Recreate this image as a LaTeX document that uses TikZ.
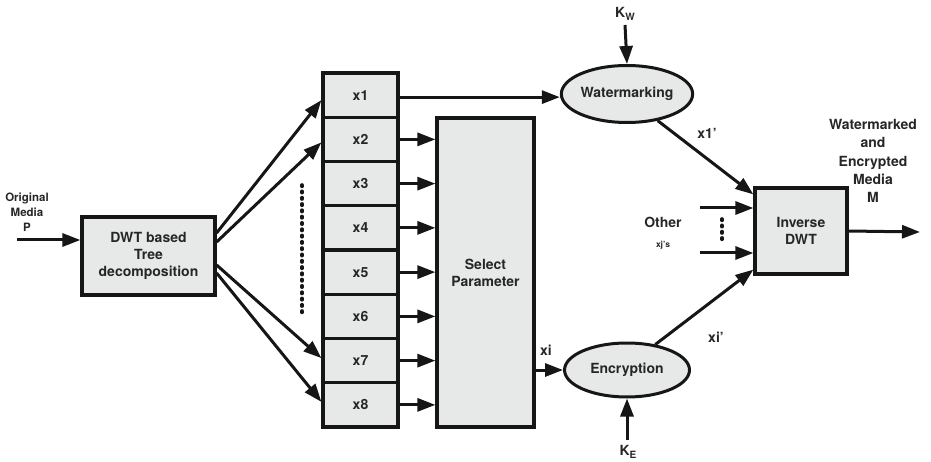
\documentclass[tikz,border=0pt]{standalone}
\usepackage{fontspec}
\setmainfont{TeX Gyre Heros}
\usetikzlibrary{arrows.meta,shapes.geometric,calc}
\definecolor{boxfill}{HTML}{E7E8E8}
\definecolor{ink}{HTML}{161616}
\definecolor{txt}{HTML}{262626}
\newcommand{\mainsize}{\fontsize{14}{17}\selectfont\bfseries}
\newcommand{\subK}[1]{K\raisebox{-0.35ex}{\fontsize{10}{10}\selectfont #1}}
\begin{document}
\begin{tikzpicture}[x=1pt,y=-1pt,
  every node/.style={text=txt,font=\mainsize},
  blk/.style={draw=ink,line width=3.2pt,fill=boxfill,align=center,inner sep=0pt},
  xcell/.style={blk,minimum width=75pt,minimum height=44.25pt},
  proc/.style={draw=ink,line width=3pt,fill=boxfill,ellipse,inner sep=0pt,minimum width=125pt},
  arr/.style={draw=ink,line width=3pt,-{Triangle[length=18pt,width=13pt]}},
  dotline/.style={draw=ink,line width=3.6pt,line cap=round,dash pattern=on 1.4pt off 4.9pt},
  lbl/.style={inner sep=0pt,align=center}]
\useasboundingbox (0,0) rectangle (931,462);

% main blocks
\node[blk,minimum width=133pt,minimum height=78pt] (dwt) at (148.5,256) {DWT based\\Tree\\decomposition};
\foreach \i in {1,...,8}
  \node[xcell] (x\i) at (360.5,{73+44.25*(\i-0.5)}) {x\i};
\node[blk,minimum width=97pt,minimum height=309pt] (sel) at (485.5,272.5) {Select\\Parameter};
\node[proc,minimum height=57pt] (wm) at (627,94) {Watermarking};
\node[proc,minimum height=54pt] (enc) at (627,370) {Encryption};
\node[blk,minimum width=92pt,minimum height=86pt] (inv) at (801,231) {Inverse\\DWT};

% free ends
\coordinate (pin) at (17,240);
\coordinate (kw) at (625,25);
\coordinate (ke) at (627,440);
\coordinate (o1) at (700,208);
\coordinate (o2) at (700,253);
\coordinate (out) at (920,232);

% input
\node[lbl,font=\fontsize{11.5}{15}\selectfont\bfseries] (orig) at (27,212) {Original\\Media\\P};
\draw[arr] (pin) -- (pin -| dwt.west);

% tree decomposition fan-out
\draw[arr] ($(dwt.east)+(0,-23)$) -- ($(x1.west)+(0,5)$);
\draw[arr] ($(dwt.east)+(0,-14)$) -- ($(x2.west)+(0,3)$);
\draw[arr] ($(dwt.east)+(0,9)$) -- ($(x7.west)+(0,-2.5)$);
\draw[arr] ($(dwt.east)+(0,17)$) -- ($(x8.west)+(0,-3)$);
\draw[dotline] (302,185) -- (302,317);

% coefficients into parameter selection
\draw[arr] ($(x1.east)+(0,2)$) -- ($(x1.east -| wm.west)+(0,2)$);
\foreach \i in {2,...,8}
  \draw[arr] (x\i.east) -- (x\i.east -| sel.west);

% selected parameter to encryption
\draw[arr] (sel.east |- enc.west) -- (enc.west);
\node[lbl] (xi) at (546,350) {xi};

% keys
\draw[arr] (kw) -- (wm.north);
\node[lbl] (kwl) at (625,14) {\subK{W}};
\draw[arr] (ke) -- (enc.south);
\node[lbl] (kel) at (628,452) {\subK{E}};

% into the inverse transform
\draw[arr] (wm.-41) -- ($(inv.north west)+(0,8)$);
\node[lbl] (x1p) at (707,133) {x1'};
\draw[arr] (enc.42) -- ($(inv.south west)+(0,-6)$);
\node[lbl] (xip) at (716,337) {xi'};
\draw[arr] (o1) -- (o1 -| inv.west);
\draw[arr] (o2) -- (o2 -| inv.west);
\draw[dotline] (722,219) -- (722,243);
\node[lbl] (other) at (663,222) {Other};
\node[lbl,font=\fontsize{8.5}{10}\selectfont\bfseries] (xjs) at (663,245) {xj's};

% output
\draw[arr] (inv.east) -- (out);
\node[lbl,font=\fontsize{14}{18.2}\selectfont\bfseries] (outl) at (873,161) {Watermarked\\and\\Encrypted\\Media\\M};
\end{tikzpicture}
\end{document}
